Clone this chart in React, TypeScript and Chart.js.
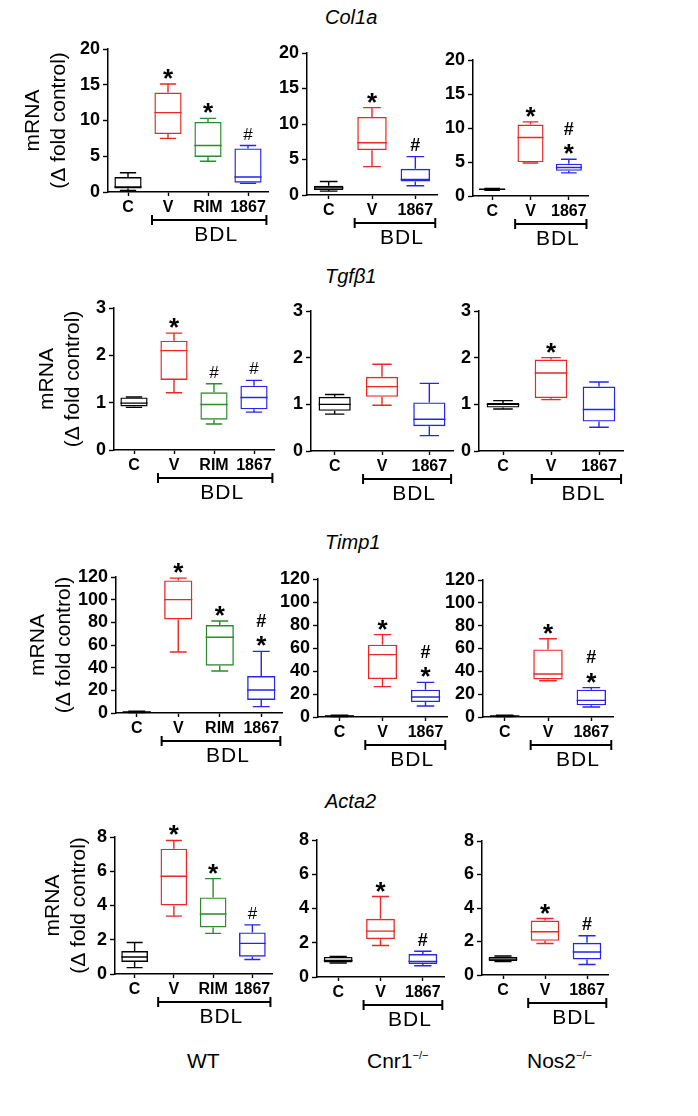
import React, { useEffect, useRef } from "react";
import { Chart, registerables } from "chart.js";
Chart.register(...registerables);

const FONT = '"Liberation Sans", Arial, Helvetica, sans-serif';
const BLACK = "#000000";
const RED = "#ee2626";
const GREEN = "#2a8c2a";
const BLUE = "#2626ea";

// ---------- data: [min, q1, median, q3, max] ----------
const categoriesWT = ["C", "V", "RIM", "1867"];
const categoriesKO = ["C", "V", "1867"];
const colorsWT = [BLACK, RED, GREEN, BLUE];
const colorsKO = [BLACK, RED, BLUE];

const yTicksCol1a = [0, 5, 10, 15, 20];
const yTicksTgfb1 = [0, 1, 2, 3];
const yTicksTimp1 = [0, 20, 40, 60, 80, 100, 120];
const yTicksActa2 = [0, 2, 4, 6, 8];

const col1aWT = [[0.2, 0.5, 0.7, 2.1, 2.7], [7.5, 8.1, 11.1, 13.9, 15.1], [4.3, 4.9, 6.5, 9.8, 10.3], [1.2, 1.3, 2.1, 6.1, 6.5]];
const col1aCnr1 = [[0.55, 0.7, 1.0, 1.3, 1.9], [4.0, 6.3, 7.35, 11.0, 12.3], [1.3, 1.9, 2.2, 3.7, 5.4]];
const col1aNos2 = [[0.85, 0.9, 1.0, 1.05, 1.1], [4.85, 4.95, 8.6, 10.5, 10.9], [3.4, 3.7, 4.2, 4.75, 5.4]];
const tgfb1WT = [[0.9, 0.92, 0.99, 1.11, 1.12], [1.21, 1.48, 2.1, 2.31, 2.47], [0.55, 0.64, 0.96, 1.22, 1.4], [0.8, 0.86, 1.11, 1.36, 1.47]];
const tgfb1Cnr1 = [[0.79, 0.86, 1.0, 1.16, 1.21], [0.98, 1.16, 1.38, 1.59, 1.86], [0.33, 0.53, 0.68, 1.04, 1.45]];
const tgfb1Nos2 = [[0.9, 0.93, 1.0, 1.03, 1.08], [1.1, 1.13, 1.67, 1.96, 2.0], [0.51, 0.63, 0.89, 1.38, 1.48]];
const timp1WT = [[0.5, 0.7, 1, 1.2, 1.5], [53.8, 82.6, 100, 117, 119], [37, 41.8, 66.8, 77.6, 81.2], [5.6, 11.5, 20.3, 32.6, 54.4]];
const timp1Cnr1 = [[0.5, 0.7, 1, 1.2, 1.5], [26.4, 33, 54.2, 62.9, 71.6], [9.6, 13, 17.4, 23.8, 30.1]];
const timp1Nos2 = [[0.5, 0.7, 1, 1.2, 1.5], [31.8, 32.9, 37.6, 59.2, 68.5], [8.7, 10.2, 14.6, 23.9, 25.7]];
const acta2WT = [[0.37, 0.7, 0.99, 1.34, 1.84], [3.38, 4.0, 5.71, 7.32, 7.8], [2.37, 2.72, 3.5, 4.47, 5.57], [0.85, 1.01, 1.79, 2.43, 2.87]];
const acta2Cnr1 = [[0.82, 0.85, 0.97, 1.17, 1.2], [1.84, 2.21, 2.68, 3.4, 4.7], [0.66, 0.76, 0.91, 1.34, 1.5]];
const acta2Nos2 = [[0.81, 0.83, 0.95, 1.09, 1.13], [1.88, 2.04, 2.58, 3.25, 3.37], [0.63, 0.93, 1.37, 1.92, 2.34]];

// significance marks ("#*" = # above *)
const col1aWTMarks = ["", "*", "*", "#"];
const col1aCnr1Marks = ["", "*", "#"];
const col1aNos2Marks = ["", "*", "#*"];
const tgfb1WTMarks = ["", "*", "#", "#"];
const tgfb1Cnr1Marks = ["", "", ""];
const tgfb1Nos2Marks = ["", "*", ""];
const timp1WTMarks = ["", "*", "*", "#*"];
const timp1Cnr1Marks = ["", "*", "#*"];
const timp1Nos2Marks = ["", "*", "#*"];
const acta2WTMarks = ["", "*", "*", "#"];
const acta2Cnr1Marks = ["", "*", "#"];
const acta2Nos2Marks = ["", "*", "#"];

const geneTitles = ["Col1a", "Tgfβ1", "Timp1", "Acta2"];
const yTitleLines = ["mRNA", "(Δ fold control)"];
const groupLabel = "BDL";

// ---------- layout ----------
const PADT = 28;
const PADR = 24;
const XH = 64;
const KO_W = 40;

type Spec = {
  stats: number[][];
  marks: string[];
  cats: string[];
  colors: string[];
  yTicks: number[];
  area: [number, number, number, number];
  yw: number;
  yTitle: boolean;
  hashBold: boolean;
};

const panels: Spec[] = [
  { stats: col1aWT, marks: col1aWTMarks, cats: categoriesWT, colors: colorsWT, yTicks: yTicksCol1a, area: [108, 268, 49, 192], yw: 88, yTitle: true, hashBold: false },
  { stats: col1aCnr1, marks: col1aCnr1Marks, cats: categoriesKO, colors: colorsKO, yTicks: yTicksCol1a, area: [307, 437, 53, 195], yw: KO_W, yTitle: false, hashBold: true },
  { stats: col1aNos2, marks: col1aNos2Marks, cats: categoriesKO, colors: colorsKO, yTicks: yTicksCol1a, area: [473, 588, 60, 196], yw: KO_W, yTitle: false, hashBold: true },
  { stats: tgfb1WT, marks: tgfb1WTMarks, cats: categoriesWT, colors: colorsWT, yTicks: yTicksTgfb1, area: [114, 274, 308, 450], yw: 80, yTitle: true, hashBold: false },
  { stats: tgfb1Cnr1, marks: tgfb1Cnr1Marks, cats: categoriesKO, colors: colorsKO, yTicks: yTicksTgfb1, area: [311, 453, 311, 451], yw: KO_W, yTitle: false, hashBold: true },
  { stats: tgfb1Nos2, marks: tgfb1Nos2Marks, cats: categoriesKO, colors: colorsKO, yTicks: yTicksTgfb1, area: [479, 623, 311, 451], yw: KO_W, yTitle: false, hashBold: true },
  { stats: timp1WT, marks: timp1WTMarks, cats: categoriesWT, colors: colorsWT, yTicks: yTicksTimp1, area: [116, 282, 577, 713], yw: 91, yTitle: true, hashBold: true },
  { stats: timp1Cnr1, marks: timp1Cnr1Marks, cats: categoriesKO, colors: colorsKO, yTicks: yTicksTimp1, area: [318, 447, 579, 717], yw: KO_W + 6, yTitle: false, hashBold: true },
  { stats: timp1Nos2, marks: timp1Nos2Marks, cats: categoriesKO, colors: colorsKO, yTicks: yTicksTimp1, area: [483, 613, 580, 717], yw: KO_W + 6, yTitle: false, hashBold: true },
  { stats: acta2WT, marks: acta2WTMarks, cats: categoriesWT, colors: colorsWT, yTicks: yTicksActa2, area: [115, 272, 837, 974], yw: 75, yTitle: true, hashBold: false },
  { stats: acta2Cnr1, marks: acta2Cnr1Marks, cats: categoriesKO, colors: colorsKO, yTicks: yTicksActa2, area: [317, 444, 840, 977], yw: KO_W, yTitle: false, hashBold: true },
  { stats: acta2Nos2, marks: acta2Nos2Marks, cats: categoriesKO, colors: colorsKO, yTicks: yTicksActa2, area: [482, 608, 841, 975], yw: KO_W, yTitle: false, hashBold: true },
];

function drawGlyph(ctx: CanvasRenderingContext2D, g: string, font: string, cx: number, cy: number) {
  ctx.font = font;
  const m = ctx.measureText(g);
  const base = cy + (m.actualBoundingBoxAscent - m.actualBoundingBoxDescent) / 2;
  ctx.fillText(g, cx, base);
}

function BoxPanel({ spec }: { spec: Spec }) {
  const ref = useRef<HTMLCanvasElement>(null);
  const [x0, x1, t, b] = spec.area;
  const w = x1 - x0 + spec.yw + PADR;
  const h = PADT + (b - t) + XH;

  useEffect(() => {
    const canvas = ref.current!;
    const boxPlugin = {
      id: "boxWhiskers",
      afterDatasetsDraw(chart: any) {
        const ctx = chart.ctx as CanvasRenderingContext2D;
        const y = chart.scales.y;
        const meta = chart.getDatasetMeta(0);
        ctx.save();
        ctx.lineWidth = 1.4;
        spec.stats.forEach((s, i) => {
          const el = meta.data[i];
          const cx = el.x;
          const bw = el.width;
          const cap = bw * 0.6;
          const [mn, q1, md, q3, mx] = s.map((v) => y.getPixelForValue(v));
          ctx.strokeStyle = spec.colors[i];
          ctx.beginPath();
          ctx.moveTo(cx - bw / 2, md);
          ctx.lineTo(cx + bw / 2, md);
          ctx.moveTo(cx, q3);
          ctx.lineTo(cx, mx);
          ctx.moveTo(cx - cap / 2, mx);
          ctx.lineTo(cx + cap / 2, mx);
          ctx.moveTo(cx, q1);
          ctx.lineTo(cx, mn);
          ctx.moveTo(cx - cap / 2, mn);
          ctx.lineTo(cx + cap / 2, mn);
          ctx.stroke();
        });
        ctx.restore();
      },
      afterDraw(chart: any) {
        const ctx = chart.ctx as CanvasRenderingContext2D;
        const y = chart.scales.y;
        const xs = chart.scales.x;
        const meta = chart.getDatasetMeta(0);
        ctx.save();
        ctx.fillStyle = BLACK;
        ctx.textAlign = "center";
        ctx.textBaseline = "alphabetic";
        const hashFont = spec.hashBold ? `bold 18px ${FONT}` : `17px ${FONT}`;
        spec.marks.forEach((mk, i) => {
          if (!mk) return;
          const topPx = y.getPixelForValue(spec.stats[i][4]);
          const cx = meta.data[i].x;
          let cy = topPx - 12;
          if (mk.includes("*")) {
            drawGlyph(ctx, "*", `bold 26px ${FONT}`, cx, topPx - 10);
            cy = topPx - 31;
          }
          if (mk.includes("#")) drawGlyph(ctx, "#", hashFont, cx, cy);
        });
        // BDL bracket
        const n = spec.cats.length;
        const step = xs.getPixelForValue(1) - xs.getPixelForValue(0);
        const xl = xs.getPixelForValue(1) - 0.4 * step;
        const xr = xs.getPixelForValue(n - 1) + 0.46 * step;
        const by = y.getPixelForValue(0) + 28;
        ctx.strokeStyle = BLACK;
        ctx.lineWidth = 2;
        ctx.beginPath();
        ctx.moveTo(xl, by);
        ctx.lineTo(xr, by);
        ctx.moveTo(xl, by - 5);
        ctx.lineTo(xl, by + 5);
        ctx.moveTo(xr, by - 5);
        ctx.lineTo(xr, by + 5);
        ctx.stroke();
        ctx.font = `21px ${FONT}`;
        (ctx as any).letterSpacing = "1px";
        ctx.fillText(groupLabel, (xl + xr) / 2 + 7, by + 21);
        ctx.restore();
      },
    };

    const chart = new Chart(canvas, {
      type: "bar",
      data: {
        labels: spec.cats,
        datasets: [
          {
            data: spec.stats.map((s) => [s[1], s[3]]) as any,
            backgroundColor: "rgba(255,255,255,0)",
            borderColor: spec.colors,
            borderWidth: 1.4,
            borderSkipped: false,
            barPercentage: 0.68,
            categoryPercentage: 1,
          },
        ],
      },
      options: {
        responsive: false,
        animation: false,
        devicePixelRatio: 1,
        layout: { padding: { top: PADT, right: PADR, left: 0, bottom: 0 } },
        plugins: { legend: { display: false }, tooltip: { enabled: false } },
        scales: {
          x: {
            type: "category",
            offset: true,
            grid: { display: true, offset: false, drawOnChartArea: false, drawTicks: true, tickLength: 4, tickColor: BLACK, tickWidth: 1.4 },
            border: { display: true, color: BLACK, width: 1.5 },
            ticks: { color: BLACK, font: { family: FONT, size: 16, weight: "bold" }, padding: 2, maxRotation: 0, autoSkip: false },
            afterFit: (s: any) => {
              s.height = XH;
              s.paddingLeft = 0;
              s.paddingRight = 0;
            },
          },
          y: {
            min: spec.yTicks[0],
            max: spec.yTicks[spec.yTicks.length - 1],
            afterBuildTicks: (s: any) => {
              s.ticks = spec.yTicks.map((v) => ({ value: v }));
            },
            grid: { display: true, drawOnChartArea: false, drawTicks: true, tickLength: 5, tickColor: BLACK, tickWidth: 1.4 },
            border: { display: true, color: BLACK, width: 1.5 },
            ticks: { color: BLACK, font: { family: FONT, size: 18, weight: "bold" }, padding: 3, autoSkip: false },
            title: {
              display: spec.yTitle,
              text: yTitleLines,
              color: BLACK,
              font: { family: FONT, size: 21, lineHeight: 1.25 },
              padding: 0,
            },
            afterFit: (s: any) => {
              s.width = spec.yw;
              s.paddingTop = 0;
              s.paddingBottom = 0;
            },
          },
        },
      } as any,
      plugins: [boxPlugin],
    });
    return () => chart.destroy();
  }, []);

  return (
    <canvas
      ref={ref}
      width={w}
      height={h}
      style={{ position: "absolute", left: x0 - spec.yw, top: t - PADT, width: w, height: h }}
    />
  );
}

function Label({ text, left, baseline, size, italic, sup }: { text: string; left: number; baseline: number; size: number; italic?: boolean; sup?: string }) {
  return (
    <div
      style={{
        position: "absolute",
        left,
        top: baseline - 0.8465 * size,
        fontFamily: FONT,
        fontSize: size,
        lineHeight: `${size}px`,
        fontStyle: italic ? "italic" : "normal",
        color: BLACK,
        whiteSpace: "nowrap",
      }}
    >
      {text}
      {sup ? (
        <span style={{ fontSize: 11, position: "relative", top: -9, letterSpacing: 0 }}>{sup}</span>
      ) : null}
    </div>
  );
}

const titleBaselines = [24, 283, 549, 808];
const strainLabels = ["WT", "Cnr1", "Nos2"];
const strainLefts = [187, 367, 527];

export default function App() {
  return (
    <div style={{ position: "absolute", left: 0, top: 0, width: 698, height: 1116, background: "#fff", overflow: "hidden" }}>
      {geneTitles.map((g, i) => (
        <Label key={g} text={g} left={325} baseline={titleBaselines[i]} size={20} italic />
      ))}
      {panels.map((p, i) => (
        <BoxPanel key={i} spec={p} />
      ))}
      {strainLabels.map((s, i) => (
        <Label key={s} text={s} left={strainLefts[i]} baseline={1068} size={21} sup={i > 0 ? "−/−" : undefined} />
      ))}
    </div>
  );
}
